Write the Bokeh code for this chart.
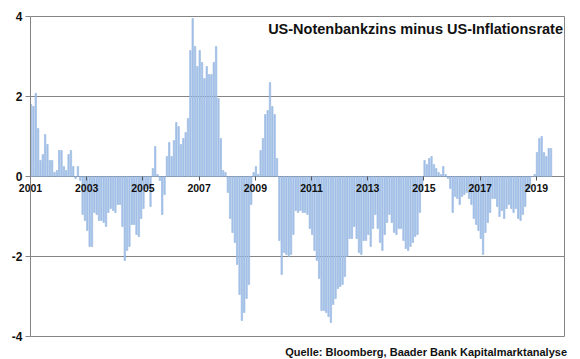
from bokeh.plotting import figure
from bokeh.models import Range1d, Label, FixedTicker, ColumnDataSource
from bokeh.embed import file_html
from bokeh.resources import INLINE

# Monthly values: US Fed funds rate minus US CPI inflation (pp), Jan 2001 - Jul 2019
v2001 = [1.8, 1.75, 2.08, 1.2, 0.4, 0.55, 1.05, 0.8, 0.4, 0.4, 0.1, 0.15]
v2002 = [0.65, 0.65, 0.25, 0.15, 0.55, 0.65, 0.25, -0.05, 0.25, -0.1, -0.95, -1.1]
v2003 = [-1.35, -1.75, -1.75, -0.9, -0.95, -1.1, -1.1, -1.15, -1.25, -0.9, -0.8, -0.85]
v2004 = [-0.9, -0.7, -0.7, -1.25, -2.1, -1.85, -1.75, -1.2, -1.2, -1.45, -1.5, -1.05]
v2005 = [-0.8, -0.3, -0.3, -0.75, 0.2, 0.75, 0.05, -0.1, -0.95, -0.45, 0.5, 0.85]
v2006 = [0.5, 0.9, 1.35, 1.25, 0.8, 0.95, 1.1, 1.45, 3.15, 3.95, 3.25, 2.75]
v2007 = [3.15, 2.85, 2.45, 2.75, 2.55, 2.55, 2.85, 3.25, 1.95, 0.95, 0.15, 0.1]
v2008 = [-0.4, -1.05, -1.4, -1.65, -2.2, -2.95, -3.6, -3.4, -3.05, -2.7, -0.7, 0.1]
v2009 = [0.25, 0.05, 0.65, 0.95, 1.55, 1.65, 2.35, 1.75, 1.55, 0.45, -1.6, -2.45]
v2010 = [-1.9, -1.95, -2.0, -1.95, -1.45, -0.85, -0.9, -0.85, -0.9, -0.9, -0.95, -1.3]
v2011 = [-1.45, -1.85, -2.1, -2.55, -3.35, -3.35, -3.4, -3.5, -3.65, -3.2, -3.05, -2.8]
v2012 = [-2.75, -2.7, -2.5, -2.0, -1.55, -1.55, -1.25, -1.55, -1.9, -1.95, -1.6, -1.6]
v2013 = [-1.45, -1.75, -1.3, -0.95, -1.3, -1.65, -1.85, -1.45, -1.15, -0.95, -1.15, -1.4]
v2014 = [-1.45, -1.3, -1.3, -1.6, -1.8, -1.85, -1.75, -1.65, -1.5, -1.45, -0.9, -0.35]
v2015 = [0.4, 0.3, 0.45, 0.5, 0.3, 0.2, 0.1, 0.05, 0.25, 0.05, -0.05, -0.3]
v2016 = [-0.9, -0.5, -0.55, -0.7, -0.5, -0.45, -0.4, -0.55, -0.7, -1.05, -1.2, -1.35]
v2017 = [-1.55, -1.95, -1.4, -1.15, -0.9, -0.55, -0.55, -0.75, -1.0, -0.85, -1.05, -0.8]
v2018 = [-0.7, -0.8, -0.9, -0.8, -1.05, -1.1, -0.95, -0.75, -0.35, -0.3, 0.0, 0.05]
v2019 = [0.6, 0.95, 1.0, 0.6, 0.5, 0.7, 0.7]

years = list(range(2001, 2020))
series = [v2001, v2002, v2003, v2004, v2005, v2006, v2007, v2008, v2009, v2010,
          v2011, v2012, v2013, v2014, v2015, v2016, v2017, v2018, v2019]

x_tick_labels = ["2001", "2003", "2005", "2007", "2009", "2011", "2013", "2015", "2017", "2019"]
y_ticks = [-4, -2, 0, 2, 4]
y_tick_labels = ["-4", "-2", "0", "2", "4"]

title_text = "US-Notenbankzins minus US-Inflationsrate"
source_text = "Quelle: Bloomberg, Baader Bank Kapitalmarktanalyse"

xs, tops = [], []
for yr, vals in zip(years, series):
    for m, v in enumerate(vals):
        xs.append(yr + (m + 0.25) / 12.0)
        tops.append(v)

tick_x = [int(t) for t in x_tick_labels]

# ---- layout (pixels) ----
W, H = 580, 359
AX_LEFT, AX_RIGHT = 30, 564       # pixel of x=2001 and x=2020
AX_TOP, AX_BOTTOM = 16, 336       # pixel of y=4 and y=-4

XA, XB = 2001.0, 2020.0           # axis extent in data
YA, YB = -4.0, 4.0
ppx = (AX_RIGHT - AX_LEFT) / (XB - XA)
ppy = (AX_BOTTOM - AX_TOP) / (YB - YA)
# the frame covers the whole canvas so that no text is clipped
x_start = XA - AX_LEFT / ppx
x_end = XB + (W - AX_RIGHT) / ppx
y_start = YA - (H - AX_BOTTOM) / ppy
y_end = YB + AX_TOP / ppy

FONT = "Liberation Sans"
grey = "#858585"

p = figure(width=W, height=H, x_range=Range1d(x_start, x_end), y_range=Range1d(y_start, y_end),
           output_backend="svg", toolbar_location=None,
           min_border_left=0, min_border_right=0, min_border_top=0, min_border_bottom=0)
p.background_fill_color = "white"
p.border_fill_color = "white"
p.outline_line_color = None
p.xgrid.grid_line_color = None
p.ygrid.grid_line_color = None

# horizontal grid lines and right border (from the tick arrays / axis extent)
p.segment(x0=[XA] * len(y_ticks), y0=y_ticks, x1=[XB] * len(y_ticks), y1=y_ticks,
          line_color=grey, line_width=1)
p.segment(x0=[XB], y0=[YA], x1=[XB], y1=[YB], line_color=grey, line_width=1)

src = ColumnDataSource(dict(x=xs, top=tops))
p.vbar(x="x", top="top", bottom=0, width=0.62 / 12.0, source=src,
       fill_color="#abc7ec", line_color="#86aadb", line_width=0.5)

# y axis at x=2001
p.yaxis.fixed_location = XA
p.yaxis.bounds = (YA, YB)
p.yaxis.ticker = FixedTicker(ticks=y_ticks)
p.yaxis.major_label_overrides = {t: s for t, s in zip(y_ticks, y_tick_labels)}
p.yaxis.axis_line_color = grey
p.yaxis.major_tick_line_color = grey
p.yaxis.major_tick_out = 5
p.yaxis.major_tick_in = 0
p.yaxis.minor_tick_line_color = None
p.yaxis.major_label_standoff = 3
p.yaxis.major_label_text_font = FONT
p.yaxis.major_label_text_font_style = "bold"
p.yaxis.major_label_text_font_size = "12px"
p.yaxis.major_label_text_color = "#111111"

# x axis sitting on the zero line
p.xaxis.fixed_location = 0
p.xaxis.bounds = (XA, XB)
p.xaxis.ticker = FixedTicker(ticks=tick_x)
p.xaxis.major_label_overrides = {t: s for t, s in zip(tick_x, x_tick_labels)}
p.xaxis.axis_line_color = None
p.xaxis.major_tick_line_color = "#555555"
p.xaxis.major_tick_out = 4
p.xaxis.major_tick_in = 0
p.xaxis.minor_tick_line_color = None
p.xaxis.major_label_standoff = 3
p.xaxis.major_label_text_font = FONT
p.xaxis.major_label_text_font_style = "bold"
p.xaxis.major_label_text_font_size = "10.5px"
p.xaxis.major_label_text_color = "#111111"

p.add_layout(Label(x=XB, y=YB, text=title_text, x_offset=-1.5, y_offset=-4,
                   text_align="right", text_baseline="top",
                   text_font=FONT, text_font_style="bold",
                   text_font_size="14.5px", text_color="#111111"))

p.add_layout(Label(x=XB, y=YA, text=source_text, x_offset=2.5, y_offset=-9,
                   text_align="right", text_baseline="top",
                   text_font=FONT, text_font_style="bold",
                   text_font_size="11px", text_color="#111111"))

open("out.html", "w").write(file_html(p, INLINE))
